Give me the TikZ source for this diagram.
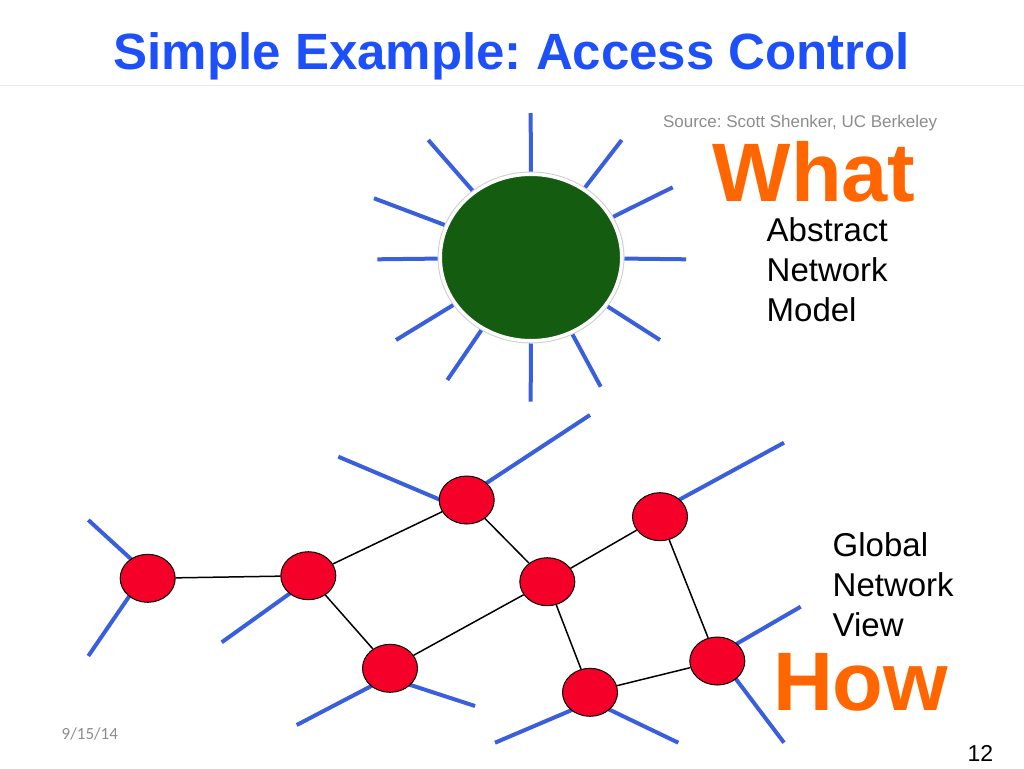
\documentclass[tikz,border=0pt]{standalone}
\usepackage{fontspec}
\setmainfont{Liberation Sans}
\newfontfamily\datefont{Carlito}
\usetikzlibrary{shapes.geometric}
\pgfdeclarelayer{bg}
\pgfsetlayers{bg,main}
\definecolor{titleblue}{RGB}{30,80,250}
\definecolor{hotorange}{RGB}{255,102,0}
\definecolor{sungreen}{RGB}{20,92,15}
\definecolor{rayblue}{RGB}{58,95,220}
\definecolor{nodered}{RGB}{245,0,40}
\definecolor{srcgray}{RGB}{140,140,140}
\tikzset{
  txt/.style={inner sep=0pt, outer sep=0pt, anchor=base west},
  ray/.style={draw=rayblue, line width=4pt},
  stub/.style={draw=rayblue, line width=4pt},
  link/.style={draw=black, line width=1.5pt},
  router/.style={ellipse, draw=black, line width=1pt, fill=nodered,
    minimum width=55pt, minimum height=48pt, inner sep=0pt},
  bigword/.style={txt, text=hotorange, text depth=0pt, font=\bfseries\fontsize{83}{83}\selectfont},
  label/.style={txt, font=\fontsize{33}{40}\selectfont},
}
\frenchspacing
\begin{document}
\begin{tikzpicture}[x=1pt,y=-1pt]
\useasboundingbox (0,0) rectangle (1024,768);

% title
\node[inner sep=0pt, anchor=base, text=titleblue, font=\bfseries\fontsize{51}{51}\selectfont] (title) at (512,69.3) {Simple Example: Access Control};
\coordinate (sepL) at (0,85);
\coordinate (sepR) at (1024,85);
\draw[black!8, line width=1pt] (sepL) -- (sepR);
\node[txt, text=srcgray, font=\fontsize{17}{17}\selectfont] (source) at (663,127.3) {Source: Scott Shenker, UC Berkeley};

% sun
\node[ellipse, draw=black!18, line width=1pt, minimum width=186pt, minimum height=171pt, inner sep=0pt] (halo) at (531,257.5) {};
\node[ellipse, fill=sungreen, draw=white, line width=3pt, minimum width=181pt, minimum height=166pt, inner sep=0pt] (sun) at (531,257.5) {};
\coordinate (r1) at (530.7,113);
\coordinate (r2) at (621.7,140);
\coordinate (r3) at (672.7,187.3);
\coordinate (r4) at (686,259.3);
\coordinate (r5) at (660,340);
\coordinate (r6) at (600.7,386.7);
\coordinate (r7) at (530.7,401.7);
\coordinate (r8) at (447.3,380);
\coordinate (r9) at (396,340);
\coordinate (r10) at (377.3,259.3);
\coordinate (r11) at (374,198.3);
\coordinate (r12) at (428.3,140);
\foreach \r in {r1,r2,r3,r4,r5,r6,r7,r8,r9,r10,r11,r12}
  \draw[ray] (halo) -- (\r);

\node[bigword] (what) at (712.7,201.7) {What};
\node[label] (abs1) at (766.7,241) {Abstract};
\node[label] (abs2) at (766.7,281.5) {Network};
\node[label] (abs3) at (766.7,321) {Model};

% network
\node[router] (A) at (147.7,578.3) {};
\node[router] (B) at (308.3,575.7) {};
\node[router] (C) at (466.7,500) {};
\node[router] (D) at (390,668.3) {};
\node[router] (E) at (547.3,581.7) {};
\node[router] (F) at (660,516.7) {};
\node[router] (G) at (717.3,661) {};
\node[router] (H) at (590,692.3) {};

\draw[link] (A) -- (B);
\draw[link] (B) -- (C);
\draw[link] (B) -- (D);
\draw[link] (C) -- (E);
\draw[link] (D) -- (E);
\draw[link] (E) -- (F);
\draw[link] (E) -- (H);
\draw[link] (F) -- (G);
\draw[link] (H) -- (G);

\coordinate (sA1) at (88.3,520);
\coordinate (sA2) at (88.3,656);
\coordinate (sB1) at (221.7,642.3);
\coordinate (sC1) at (338.3,456.7);
\coordinate (sC2) at (590,415);
\coordinate (sD1) at (296.7,725);
\coordinate (sD2) at (475,706);
\coordinate (sF1) at (784,442.7);
\coordinate (sG1) at (800.7,606.7);
\coordinate (sG2) at (784,742.7);
\coordinate (sH1) at (495,742.7);
\coordinate (sH2) at (678.3,742.7);
\begin{pgfonlayer}{bg}
\draw[stub] (sA1) -- ([shift={(0,-4)}]A.center);
\draw[stub] (sA2) -- ([shift={(0,-9)}]A.center);
\draw[stub] (sB1) -- ([shift={(0,4.5)}]B.center);
\draw[stub] (sC1) -- ([shift={(0,11)}]C.center);
\draw[stub] (sC2) -- ([shift={(0,-4)}]C.center);
\draw[stub] (sD1) -- ([shift={(0,8)}]D.center);
\draw[stub] (sD2) -- ([shift={(0,10)}]D.center);
\draw[stub] (sF1) -- ([shift={(0,-6.5)}]F.center);
\draw[stub] (sG1) -- ([shift={(0,-6)}]G.center);
\draw[stub] (sG2) -- ([shift={(5,0)}]G.center);
\draw[stub] (sH1) -- ([shift={(0,10)}]H.center);
\draw[stub] (sH2) -- ([shift={(0,8)}]H.center);
\end{pgfonlayer}

\node[label] (glob1) at (832.7,556) {Global};
\node[label] (glob2) at (832.7,596) {Network};
\node[label] (glob3) at (832.7,636) {View};
\node[bigword] (how) at (773,710) {How};

\node[txt, font=\fontsize{23}{23}\selectfont] (page) at (967.5,761.7) {12};
\node[txt, text=srcgray, font=\datefont\fontsize{17}{17}\selectfont] (date) at (61.7,739) {9/15/14};
\end{tikzpicture}
\end{document}
